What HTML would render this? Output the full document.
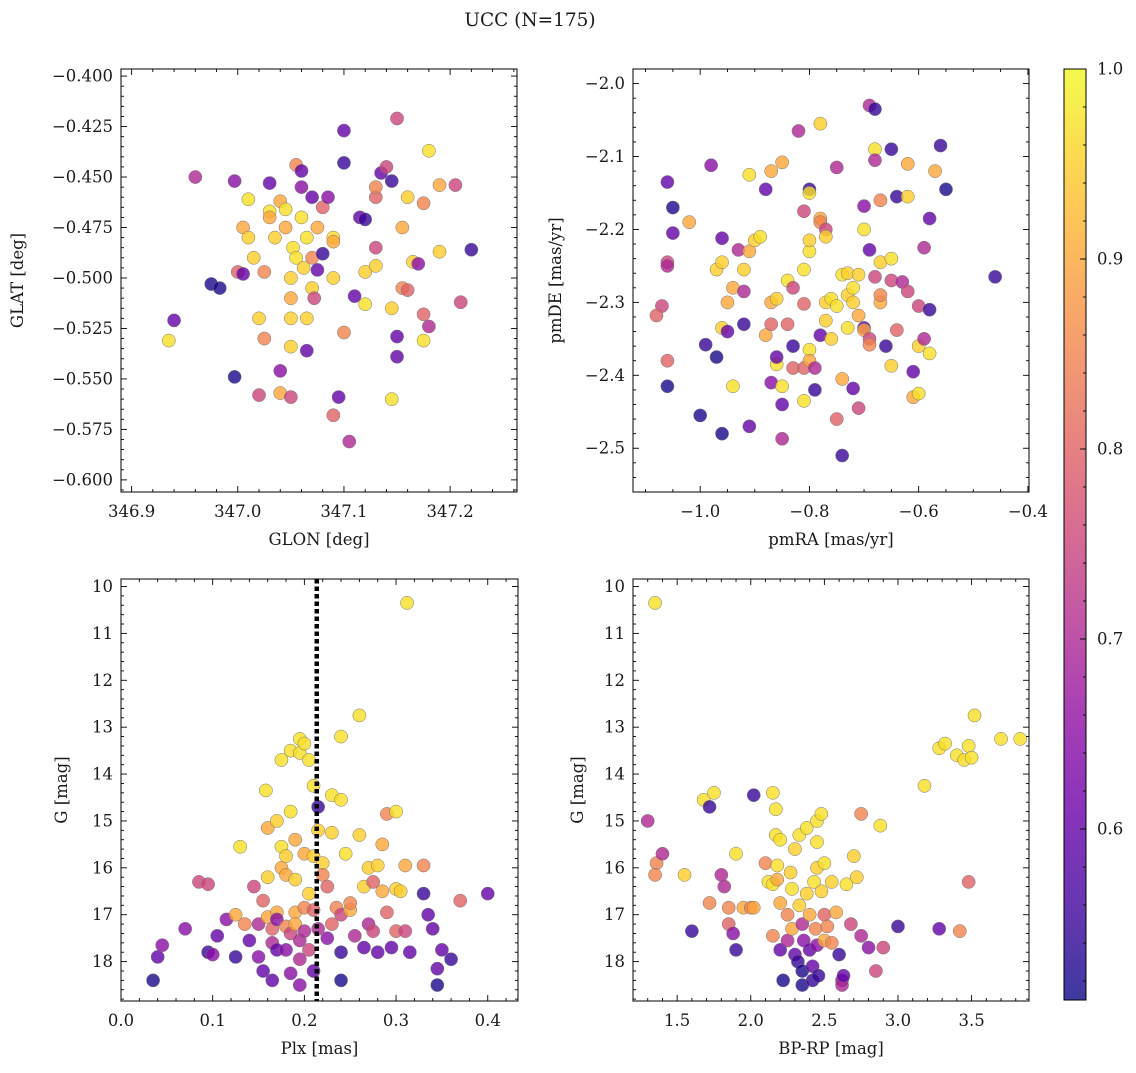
<!DOCTYPE html>
<html><head><meta charset="utf-8"><style>
body{margin:0;background:#fff;width:1136px;height:1068px;overflow:hidden}
svg text{font-family:"DejaVu Serif","Liberation Serif",serif;fill:#1a1a1a}
</style></head><body>
<svg id="fig" width="1136" height="1068" xmlns="http://www.w3.org/2000/svg">
<text x="530" y="26" font-size="18.5" text-anchor="middle">UCC (N=175)</text>
</svg>
<script>
// ---- Data: panel 1 (GLON vs GLAT) ----
const p1x=[346.935,346.94,346.96,346.975,346.983,346.997,346.997,347.0,347.005,347.01,347.005,347.01,347.015,347.02,347.025,347.02,347.025,347.03,347.03,347.03,347.035,347.04,347.04,347.04,347.045,347.045,347.05,347.05,347.05,347.05,347.05,347.052,347.055,347.055,347.06,347.06,347.06,347.062,347.065,347.065,347.065,347.07,347.07,347.07,347.072,347.075,347.075,347.08,347.08,347.085,347.09,347.09,347.09,347.09,347.095,347.1,347.1,347.1,347.105,347.11,347.115,347.12,347.12,347.12,347.13,347.13,347.13,347.13,347.135,347.14,347.145,347.145,347.145,347.15,347.15,347.15,347.155,347.155,347.16,347.16,347.165,347.17,347.175,347.175,347.175,347.18,347.18,347.19,347.19,347.205,347.21,347.22];
const p1y=[-0.531,-0.521,-0.45,-0.503,-0.505,-0.452,-0.549,-0.497,-0.498,-0.461,-0.475,-0.48,-0.49,-0.52,-0.53,-0.558,-0.497,-0.453,-0.467,-0.47,-0.48,-0.462,-0.557,-0.546,-0.466,-0.475,-0.5,-0.51,-0.52,-0.534,-0.559,-0.485,-0.444,-0.49,-0.447,-0.455,-0.47,-0.495,-0.48,-0.52,-0.536,-0.46,-0.49,-0.505,-0.51,-0.475,-0.496,-0.465,-0.488,-0.46,-0.48,-0.482,-0.5,-0.568,-0.559,-0.427,-0.443,-0.527,-0.581,-0.509,-0.47,-0.471,-0.497,-0.513,-0.494,-0.485,-0.46,-0.455,-0.448,-0.445,-0.452,-0.515,-0.56,-0.421,-0.529,-0.539,-0.475,-0.505,-0.46,-0.506,-0.492,-0.493,-0.518,-0.463,-0.531,-0.437,-0.524,-0.454,-0.487,-0.454,-0.512,-0.486];
const p1c=[0.97,0.6,0.7,0.52,0.52,0.65,0.52,0.8,0.6,0.97,0.9,0.95,0.95,0.95,0.85,0.75,0.85,0.6,0.97,0.9,0.95,0.9,0.9,0.65,0.97,0.9,0.95,0.9,0.95,0.95,0.75,0.97,0.85,0.97,0.6,0.65,0.97,0.95,0.97,0.95,0.6,0.6,0.85,0.95,0.75,0.9,0.6,0.8,0.55,0.65,0.97,0.9,0.95,0.8,0.6,0.6,0.55,0.85,0.7,0.6,0.6,0.55,0.95,0.97,0.95,0.75,0.8,0.85,0.6,0.75,0.55,0.95,0.97,0.75,0.6,0.6,0.9,0.85,0.95,0.8,0.95,0.65,0.8,0.85,0.97,0.97,0.7,0.9,0.95,0.75,0.75,0.55];
// ---- panel 2 (pmRA vs pmDE) ----
const p2x=[-1.06,-1.05,-1.05,-1.06,-1.06,-1.07,-1.08,-1.06,-1.06,-1.02,-1.0,-0.99,-0.97,-0.98,-0.96,-0.96,-0.97,-0.96,-0.96,-0.95,-0.95,-0.94,-0.94,-0.93,-0.92,-0.92,-0.92,-0.91,-0.91,-0.91,-0.9,-0.89,-0.88,-0.88,-0.87,-0.87,-0.87,-0.87,-0.86,-0.86,-0.86,-0.85,-0.85,-0.85,-0.85,-0.84,-0.84,-0.83,-0.83,-0.83,-0.82,-0.81,-0.81,-0.81,-0.81,-0.81,-0.8,-0.8,-0.8,-0.8,-0.8,-0.8,-0.79,-0.79,-0.78,-0.78,-0.78,-0.78,-0.77,-0.77,-0.77,-0.77,-0.76,-0.76,-0.75,-0.75,-0.75,-0.74,-0.74,-0.74,-0.73,-0.73,-0.73,-0.72,-0.72,-0.72,-0.71,-0.71,-0.71,-0.7,-0.7,-0.7,-0.7,-0.69,-0.69,-0.69,-0.68,-0.68,-0.68,-0.67,-0.67,-0.67,-0.67,-0.66,-0.65,-0.65,-0.65,-0.64,-0.64,-0.63,-0.62,-0.62,-0.62,-0.61,-0.61,-0.6,-0.6,-0.6,-0.59,-0.59,-0.58,-0.58,-0.58,-0.57,-0.56,-0.55,-0.46,-0.69,-0.68,-0.65];
const p2y=[-2.135,-2.17,-2.205,-2.245,-2.25,-2.305,-2.318,-2.38,-2.415,-2.19,-2.455,-2.358,-2.375,-2.112,-2.48,-2.212,-2.255,-2.245,-2.335,-2.34,-2.3,-2.28,-2.415,-2.228,-2.285,-2.255,-2.33,-2.23,-2.47,-2.125,-2.215,-2.21,-2.145,-2.345,-2.33,-2.12,-2.41,-2.3,-2.295,-2.385,-2.375,-2.108,-2.44,-2.415,-2.487,-2.33,-2.27,-2.28,-2.36,-2.39,-2.065,-2.39,-2.302,-2.435,-2.175,-2.255,-2.23,-2.215,-2.145,-2.365,-2.38,-2.15,-2.39,-2.42,-2.055,-2.185,-2.19,-2.345,-2.2,-2.3,-2.325,-2.21,-2.35,-2.295,-2.305,-2.115,-2.46,-2.51,-2.262,-2.405,-2.335,-2.26,-2.29,-2.28,-2.3,-2.418,-2.262,-2.318,-2.445,-2.2,-2.168,-2.335,-2.338,-2.228,-2.35,-2.358,-2.265,-2.09,-2.105,-2.16,-2.245,-2.3,-2.29,-2.36,-2.24,-2.387,-2.27,-2.155,-2.338,-2.272,-2.11,-2.155,-2.285,-2.395,-2.43,-2.425,-2.36,-2.305,-2.225,-2.35,-2.185,-2.31,-2.37,-2.12,-2.085,-2.145,-2.265,-2.03,-2.035,-2.09];
const p2c=[0.6,0.52,0.6,0.75,0.7,0.75,0.8,0.8,0.52,0.9,0.52,0.55,0.52,0.65,0.52,0.6,0.95,0.95,0.95,0.6,0.9,0.9,0.97,0.7,0.7,0.95,0.55,0.9,0.6,0.97,0.95,0.97,0.6,0.9,0.8,0.9,0.65,0.9,0.95,0.97,0.6,0.9,0.6,0.97,0.7,0.8,0.97,0.75,0.55,0.8,0.7,0.8,0.8,0.97,0.75,0.97,0.97,0.95,0.55,0.97,0.9,0.97,0.7,0.55,0.95,0.9,0.85,0.6,0.75,0.95,0.95,0.95,0.95,0.97,0.97,0.7,0.8,0.55,0.97,0.9,0.97,0.95,0.95,0.97,0.95,0.6,0.95,0.9,0.75,0.97,0.65,0.6,0.9,0.6,0.75,0.85,0.75,0.97,0.7,0.85,0.95,0.9,0.85,0.55,0.97,0.95,0.75,0.55,0.8,0.7,0.9,0.95,0.75,0.6,0.9,0.97,0.95,0.75,0.7,0.7,0.6,0.55,0.97,0.9,0.55,0.52,0.55,0.7,0.55,0.55];
// ---- panel 3 (Plx vs G) ----
const p3x=[0.035,0.04,0.045,0.07,0.085,0.095,0.095,0.1,0.105,0.115,0.125,0.125,0.13,0.135,0.14,0.145,0.15,0.15,0.155,0.155,0.158,0.16,0.16,0.16,0.165,0.165,0.165,0.17,0.17,0.17,0.17,0.175,0.175,0.175,0.18,0.18,0.18,0.18,0.185,0.185,0.185,0.185,0.19,0.19,0.19,0.19,0.195,0.195,0.195,0.195,0.195,0.2,0.2,0.2,0.2,0.205,0.205,0.205,0.21,0.21,0.21,0.21,0.215,0.215,0.215,0.22,0.22,0.225,0.225,0.23,0.23,0.23,0.235,0.24,0.24,0.24,0.24,0.245,0.25,0.25,0.255,0.26,0.26,0.265,0.265,0.27,0.27,0.275,0.275,0.28,0.28,0.285,0.285,0.29,0.29,0.295,0.3,0.3,0.3,0.305,0.31,0.31,0.312,0.315,0.33,0.33,0.335,0.34,0.345,0.345,0.35,0.36,0.37,0.4,0.24];
const p3y=[18.4,17.9,17.65,17.3,16.3,16.35,17.8,17.85,17.45,17.1,17.9,17.0,15.55,17.2,17.55,16.4,17.2,17.9,18.2,16.7,14.35,15.15,16.2,17.05,17.3,17.6,18.4,16.95,17.1,15.0,17.75,13.7,16.0,15.55,15.75,16.15,17.25,17.75,13.5,14.8,17.4,18.25,15.4,16.25,16.95,17.2,13.25,13.55,17.55,17.95,18.5,13.35,15.7,16.85,17.35,13.7,16.55,17.75,14.25,15.75,16.9,18.2,14.7,15.2,17.3,15.9,16.15,16.4,17.5,14.45,15.25,17.2,16.85,13.2,14.55,17.0,17.8,15.7,16.9,16.75,17.45,12.75,15.3,16.4,17.7,16.0,17.2,16.3,17.35,15.95,17.8,15.5,16.5,14.85,16.95,17.7,14.8,16.45,17.35,16.5,15.95,17.35,10.35,17.8,16.55,15.95,17.0,17.3,18.15,18.5,17.75,17.95,16.7,16.55,18.4];
const p3c=[0.52,0.6,0.65,0.65,0.75,0.75,0.55,0.65,0.6,0.65,0.55,0.9,0.97,0.85,0.6,0.75,0.7,0.65,0.6,0.8,0.97,0.9,0.95,0.9,0.8,0.7,0.6,0.9,0.65,0.95,0.6,0.97,0.9,0.97,0.95,0.9,0.85,0.65,0.97,0.97,0.75,0.65,0.9,0.95,0.9,0.9,0.97,0.97,0.7,0.7,0.65,0.97,0.9,0.85,0.7,0.97,0.95,0.75,0.97,0.95,0.8,0.6,0.55,0.95,0.7,0.95,0.85,0.8,0.65,0.97,0.95,0.8,0.85,0.97,0.97,0.75,0.55,0.97,0.9,0.85,0.7,0.97,0.95,0.95,0.6,0.95,0.7,0.8,0.75,0.95,0.6,0.9,0.9,0.85,0.8,0.6,0.97,0.95,0.8,0.95,0.9,0.75,0.97,0.6,0.55,0.85,0.6,0.6,0.6,0.52,0.6,0.55,0.8,0.6,0.52];
// ---- panel 4 (BP-RP vs G) ----
const p4x=[1.35,1.3,1.36,1.35,1.4,1.55,1.6,1.68,1.72,1.72,1.75,1.8,1.82,1.85,1.85,1.88,1.9,1.9,1.95,2.0,2.02,2.02,2.1,2.12,2.15,2.15,2.15,2.17,2.17,2.18,2.18,2.2,2.2,2.2,2.22,2.25,2.25,2.27,2.28,2.28,2.3,2.3,2.32,2.33,2.33,2.35,2.35,2.35,2.36,2.38,2.38,2.4,2.4,2.42,2.42,2.43,2.44,2.45,2.45,2.45,2.45,2.46,2.48,2.48,2.5,2.5,2.5,2.52,2.55,2.55,2.58,2.6,2.62,2.62,2.63,2.65,2.68,2.7,2.72,2.75,2.75,2.8,2.85,2.88,2.9,3.0,3.18,3.28,3.28,3.32,3.4,3.42,3.45,3.48,3.48,3.5,3.52,3.7,3.83];
const p4y=[10.35,15.0,15.9,16.15,15.7,16.15,17.35,14.55,14.7,16.75,14.4,16.15,16.4,16.85,17.2,17.4,15.7,17.75,16.85,16.85,14.45,16.85,15.9,16.3,14.4,16.35,17.45,14.75,15.3,15.95,16.25,15.4,16.75,17.75,18.4,17.0,17.55,16.1,16.45,17.3,15.6,17.85,18.0,15.3,16.8,17.2,18.2,18.5,17.55,15.15,16.55,17.0,17.75,18.4,18.1,16.3,17.3,15.0,15.45,16.0,17.65,18.3,14.85,16.5,15.9,17.0,17.55,17.25,17.6,16.3,16.95,17.85,18.4,18.5,18.3,16.35,17.2,15.75,16.2,14.85,17.45,17.7,18.2,15.1,17.7,17.25,14.25,17.3,13.45,13.35,13.6,17.35,13.7,13.4,16.3,13.65,12.75,13.25,13.25];
const p4c=[0.97,0.7,0.85,0.85,0.7,0.95,0.55,0.97,0.55,0.85,0.97,0.7,0.7,0.85,0.8,0.65,0.97,0.55,0.9,0.85,0.55,0.9,0.85,0.97,0.97,0.97,0.85,0.97,0.97,0.97,0.9,0.97,0.9,0.6,0.52,0.85,0.7,0.95,0.97,0.9,0.95,0.6,0.55,0.97,0.95,0.7,0.52,0.52,0.65,0.97,0.95,0.9,0.6,0.55,0.6,0.97,0.85,0.97,0.97,0.95,0.65,0.55,0.97,0.95,0.97,0.8,0.9,0.85,0.85,0.95,0.9,0.55,0.65,0.7,0.6,0.97,0.75,0.95,0.95,0.85,0.7,0.65,0.75,0.97,0.75,0.55,0.97,0.6,0.97,0.97,0.97,0.85,0.97,0.97,0.8,0.97,0.97,0.97,0.97];
const cbTicks=[0.6,0.7,0.8,0.9,1.0];
const plxLine=0.2135;

const NS="http://www.w3.org/2000/svg";
const svg=document.getElementById('fig');
const VMIN=0.51,VMAX=1.0;
const FS=16.5;
const stops=["#0d0887","#41049d","#6a00a8","#8f0da4","#b12a90","#cc4778","#e16462","#f2844b","#fca636","#fcce25","#f0f921"];
function hex(h){return [1,3,5].map(i=>parseInt(h.substr(i,2),16));}
function plasma(t){t=Math.max(0,Math.min(1,t));const f=t*10,i=Math.min(9,Math.floor(f)),r=f-i;const a=hex(stops[i]),b=hex(stops[i+1]);return 'rgb('+a.map((v,k)=>Math.round(v+(b[k]-v)*r)).join(',')+')';}
function el(tag,attrs,parent){const e=document.createElementNS(NS,tag);for(const k in attrs)e.setAttribute(k,attrs[k]);(parent||svg).appendChild(e);return e;}

function panel(name,P,xd,yd,xMaj,xMin,yMaj,yMin,xfmt,yfmt,xlab,ylab,ylabX,xs,ys,cs){
  const g=el('g',{});
  
  
  const sx=v=>P.L+(v-xd[0])/(xd[1]-xd[0])*(P.R-P.L);
  const sy=v=>P.B-(v-yd[0])/(yd[1]-yd[0])*(P.B-P.T);
  for(let i=0;i<xs.length;i++){
    const c=el('circle',{cx:sx(xs[i]),cy:sy(ys[i]),r:6.6,fill:plasma((cs[i]-VMIN)/(VMAX-VMIN)),'fill-opacity':0.8,stroke:'#777','stroke-width':0.5},g);
    
    
  }
  const tk=el('g',{stroke:'#000','stroke-width':0.9},g);
  const eps=1e-9;
  for(let v=Math.ceil((xd[0]-eps)/xMin)*xMin;v<=xd[1]+eps;v+=xMin){
    const x=sx(v);const maj=Math.abs(v/xMaj-Math.round(v/xMaj))<1e-6;const L=maj?6:3;
    el('line',{x1:x,x2:x,y1:P.B,y2:P.B-L},tk);el('line',{x1:x,x2:x,y1:P.T,y2:P.T+L},tk);
    if(maj){const t=el('text',{x:x,y:P.B+25,'font-size':FS,'text-anchor':'middle'},g);t.textContent=xfmt(v);
      }
  }
  for(let v=Math.ceil((Math.min(...yd)-eps)/yMin)*yMin;v<=Math.max(...yd)+eps;v+=yMin){
    const y=sy(v);const maj=Math.abs(v/yMaj-Math.round(v/yMaj))<1e-6;const L=maj?6:3;
    el('line',{x1:P.L,x2:P.L+L,y1:y,y2:y},tk);el('line',{x1:P.R,x2:P.R-L,y1:y,y2:y},tk);
    if(maj){const t=el('text',{x:P.L-8,y:y+5.5,'font-size':FS,'text-anchor':'end'},g);t.textContent=yfmt(v);
      }
  }
  el('rect',{x:P.L,y:P.T,width:P.R-P.L,height:P.B-P.T,fill:'none',stroke:'#000','stroke-width':1},g);
  const xl=el('text',{x:(P.L+P.R)/2,y:P.B+53,'font-size':FS,'text-anchor':'middle'},g);xl.textContent=xlab;
  
  const yl=el('text',{x:ylabX,y:(P.T+P.B)/2,'font-size':FS,'text-anchor':'middle',transform:`rotate(-90 ${ylabX} ${(P.T+P.B)/2})`},g);yl.textContent=ylab;
  
  return {sx,sy,g};
}
const m=s=>s.replace('-','\u2212');
panel('glon-glat-panel',{L:121,R:517,T:69,B:492},[346.89,347.263],[-0.606,-0.3965],0.1,0.02,0.025,0.005,v=>v.toFixed(1),v=>m(v.toFixed(3)),'GLON [deg]','GLAT [deg]',23,p1x,p1y,p1c);
panel('pm-panel',{L:633,R:1029,T:69,B:492},[-1.123,-0.398],[-2.560,-1.980],0.2,0.05,0.1,0.02,v=>m(v.toFixed(1)),v=>m(v.toFixed(1)),'pmRA [mas/yr]','pmDE [mas/yr]',561,p2x,p2y,p2c);
const p3=panel('plx-g-panel',{L:121,R:518,T:579,B:1001},[0,0.433],[18.84,9.84],0.1,0.02,1,0.2,v=>v.toFixed(1),v=>Math.round(v).toString(),'Plx [mas]','G [mag]',67,p3x,p3y,p3c);
panel('cmd-panel',{L:633,R:1029,T:579,B:1001},[1.20,3.89],[18.84,9.84],0.5,0.1,1,0.2,v=>v.toFixed(1),v=>Math.round(v).toString(),'BP-RP [mag]','G [mag]',583,p4x,p4y,p4c);
const dl=el('line',{x1:p3.sx(plxLine),x2:p3.sx(plxLine),y1:579,y2:1001,stroke:'#000','stroke-width':4.5,'stroke-dasharray':'4.5 3'});



// colorbar
const defs=el('defs',{});
const lg=el('linearGradient',{id:'cbg',x1:0,y1:1,x2:0,y2:0},defs);
for(let i=0;i<=10;i++)el('stop',{offset:i/10,'stop-color':stops[i]},lg);
const CB={L:1064,R:1086,T:69,B:1000};
const cb=el('g',{});


el('rect',{x:CB.L,y:CB.T,width:CB.R-CB.L,height:CB.B-CB.T,fill:'url(#cbg)','fill-opacity':0.8},cb);
el('rect',{x:CB.L,y:CB.T,width:CB.R-CB.L,height:CB.B-CB.T,fill:'none',stroke:'#000','stroke-width':1},cb);
const cy=v=>CB.B-(v-VMIN)/(VMAX-VMIN)*(CB.B-CB.T);
for(let v=0.52;v<=1.0001;v+=0.02){el('line',{x1:CB.R,x2:CB.R-3,y1:cy(v),y2:cy(v),stroke:'#000','stroke-width':0.9},cb);}
cbTicks.forEach(v=>{
  el('line',{x1:CB.R,x2:CB.R-6,y1:cy(v),y2:cy(v),stroke:'#000','stroke-width':0.9},cb);
  const t=el('text',{x:CB.R+11,y:cy(v)+5.5,'font-size':FS},cb);t.textContent=v.toFixed(1);
  
  
});
</script>
</body></html>
